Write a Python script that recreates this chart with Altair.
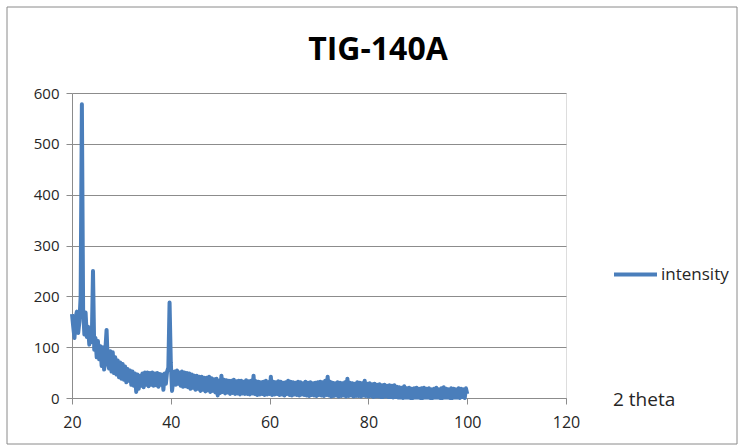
import altair as alt
import pandas as pd

# XRD scan sampled every 0.25 degree 2-theta, 20.00 .. 100.00
intensity = [
    165, 140, 118, 160,   # 20
    170, 128, 150, 200,   # 21
    578, 175, 125, 168,   # 22
    120, 140, 105, 135,   # 23
    110, 250, 95, 118,    # 24
    80, 112, 76, 102,     # 25
    63, 100, 56, 94,      # 26
    134, 68, 58, 92,      # 27
    52, 90, 49, 80,       # 28
    46, 74, 41, 70,       # 29
    38, 67, 36, 62,       # 30
    31, 57, 34, 54,       # 31
    26, 52, 24, 48,       # 32
    12, 46, 18, 44,       # 33
    24, 48, 21, 50,       # 34
    26, 50, 23, 49,       # 35
    26, 50, 24, 48,       # 36
    25, 49, 22, 47,       # 37
    26, 46, 16, 48,       # 38
    28, 52, 60, 188,      # 39
    70, 14, 35, 52,       # 40
    26, 54, 28, 50,       # 41
    24, 52, 22, 50,       # 42
    23, 49, 21, 48,       # 43
    18, 46, 20, 44,       # 44
    16, 44, 18, 42,       # 45
    14, 42, 16, 40,       # 46
    13, 40, 15, 42,       # 47
    12, 39, 14, 37,       # 48
    11, 38, 5, 34,        # 49
    10, 44, 12, 36,       # 50
    9, 35, 11, 34,        # 51
    8, 34, 10, 36,        # 52
    8, 33, 9, 34,         # 53
    7, 34, 9, 32,         # 54
    8, 35, 8, 33,         # 55
    7, 34, 9, 44,         # 56
    8, 33, 6, 32,         # 57
    7, 31, 8, 32,         # 58
    6, 34, 7, 31,         # 59
    8, 42, 6, 32,         # 60
    7, 31, 8, 33,         # 61
    6, 32, 7, 30,         # 62
    5, 31, 8, 34,         # 63
    6, 32, 5, 31,         # 64
    7, 30, 6, 32,         # 65
    5, 31, 7, 29,         # 66
    6, 32, 5, 30,         # 67
    4, 31, 6, 29,         # 68
    5, 30, 4, 31,         # 69
    6, 32, 5, 31,         # 70
    4, 34, 6, 42,         # 71
    5, 32, 3, 30,         # 72
    4, 29, 5, 31,         # 73
    3, 30, 4, 29,         # 74
    5, 31, 3, 38,         # 75
    4, 30, 5, 29,         # 76
    3, 28, 4, 31,         # 77
    4, 30, 3, 29,         # 78
    5, 34, 4, 28,         # 79
    3, 29, 4, 27,         # 80
    2, 28, 3, 26,         # 81
    3, 27, 2, 25,         # 82
    2, 26, 3, 24,         # 83
    2, 25, 2, 24,         # 84
    1, 25, 2, 22,         # 85
    1, 21, 1, 20,         # 86
    0, 23, 1, 19,         # 87
    1, 20, 0, 18,         # 88
    0, 19, 1, 20,         # 89
    1, 18, 0, 19,         # 90
    0, 20, 1, 18,         # 91
    1, 19, 0, 17,         # 92
    0, 18, 1, 20,         # 93
    1, 17, 0, 19,         # 94
    0, 21, 1, 18,         # 95
    1, 17, 0, 19,         # 96
    0, 18, 1, 17,         # 97
    1, 19, 0, 18,         # 98
    2, 17, 0, 19,         # 99
    8,                    # 100
]
two_theta = [round(20 + 0.25 * i, 2) for i in range(len(intensity))]
series_name = ["intensity"] * len(intensity)

x_ticks = [20, 40, 60, 80, 100, 120]
y_ticks = [0, 100, 200, 300, 400, 500, 600]
title_text = "TIG-140A"
x_title = "2 theta"

df = pd.DataFrame({"two_theta": two_theta, "intensity": intensity, "series": series_name})

FONT = "Open Sans"
GRID = "#8c8c8c"
TEXT = "#262626"
W, H = 494, 305

line = alt.Chart(df).mark_line(strokeWidth=4, strokeJoin="round", clip=False).encode(
    x=alt.X("two_theta:Q", scale=alt.Scale(domain=[20, 120], nice=False, zero=False),
            axis=alt.Axis(values=x_ticks, title=None, grid=False, domainColor=GRID,
                          tickColor=GRID, tickSize=6, labelFontSize=16, labelPadding=10,
                          labelFlush=False, labelOverlap=False,
                          labelColor=TEXT, labelFont=FONT)),
    y=alt.Y("intensity:Q", scale=alt.Scale(domain=[0, 600], nice=False),
            axis=alt.Axis(values=y_ticks, title=None, grid=True, gridColor=GRID,
                          gridWidth=1, domainColor=GRID, tickColor=GRID, tickSize=6,
                          labelFlush=False, labelOverlap=False,
                          labelFontSize=15, labelPadding=7, labelColor=TEXT, labelFont=FONT)),
    color=alt.Color("series:N", scale=alt.Scale(range=["#4a7ebb"]),
                    legend=alt.Legend(title=None, orient="none", legendX=540, legendY=158,
                                      symbolType="stroke", symbolSize=1849,
                                      symbolStrokeWidth=4, labelFontSize=17,
                                      labelFont=FONT, labelColor=TEXT, labelOffset=2)),
)

border = alt.Chart(pd.DataFrame({"k": [0]})).mark_rect(
    fill="transparent", stroke="#8a8a8a", strokeWidth=1, clip=False
).encode(x=alt.value(-65), x2=alt.value(665), y=alt.value(-86), y2=alt.value(351))

title = alt.Chart(pd.DataFrame({"t": [title_text]})).mark_text(
    font=FONT, fontSize=32, fontWeight="bold", color="#000000", align="center",
    baseline="alphabetic", clip=False
).encode(text="t:N", x=alt.value(306), y=alt.value(-33))

xlab = alt.Chart(pd.DataFrame({"t": [x_title]})).mark_text(
    font=FONT, fontSize=19, color=TEXT, align="left", baseline="middle", clip=False
).encode(text="t:N", x=alt.value(541), y=alt.value(307))

chart = alt.layer(border, line, title, xlab).properties(
    width=W, height=H,
    autosize=alt.AutoSizeParams(type="none"),
    padding={"left": 72, "top": 93, "right": 174, "bottom": 50},
).configure_view(stroke=None).configure(background="white")

chart.save("out.html", embed_options={"renderer": "svg", "actions": False})
